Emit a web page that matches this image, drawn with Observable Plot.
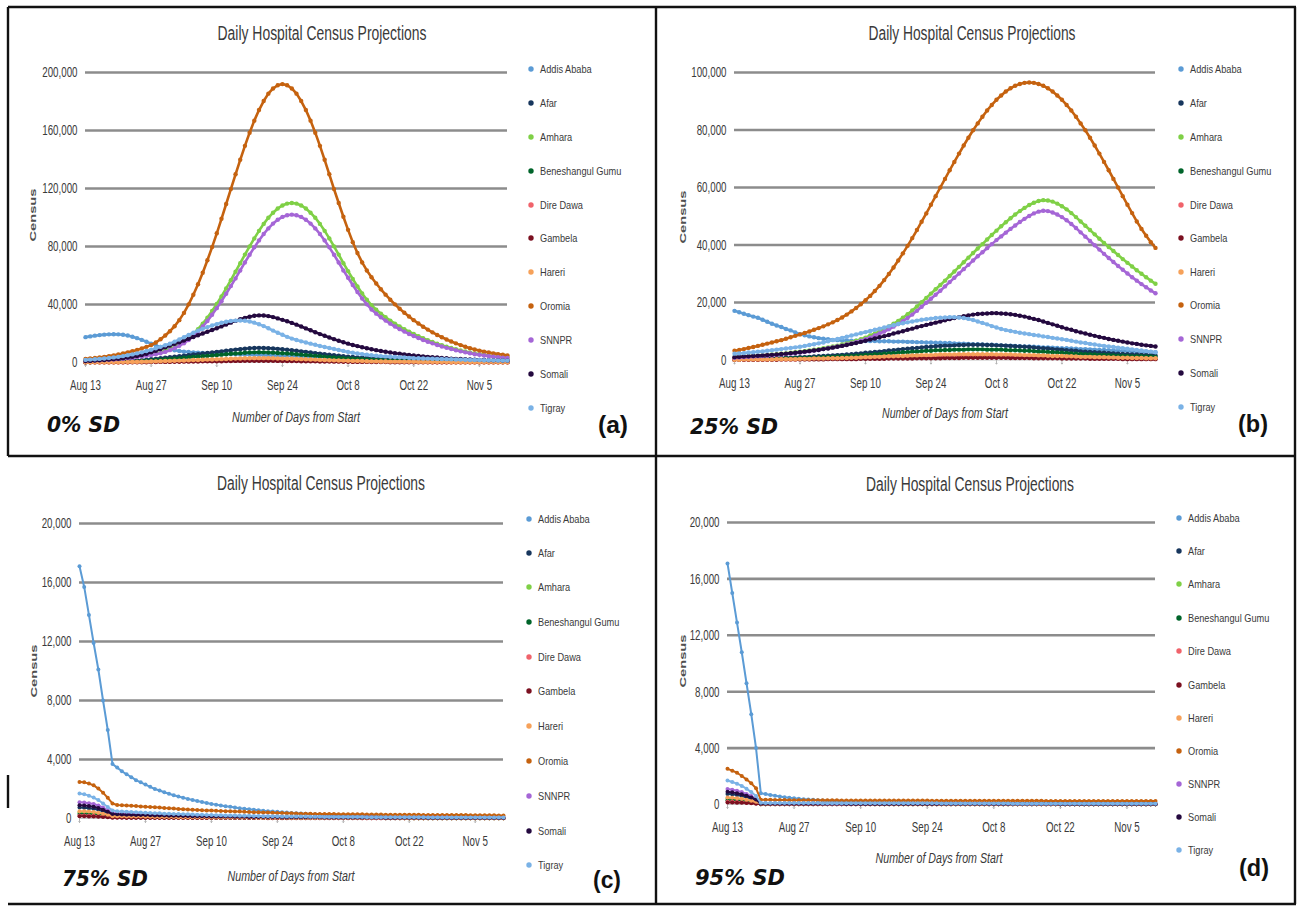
<!DOCTYPE html>
<html><head><meta charset="utf-8">
<script src="https://cdn.jsdelivr.net/npm/d3@7"></script>
<script src="https://cdn.jsdelivr.net/npm/@observablehq/plot@0.6"></script>
<style>
html,body{margin:0;padding:0;background:#fff;}
#page{position:relative;width:1297px;height:906px;overflow:hidden;background:#fff;font-family:"Liberation Sans",Arial,sans-serif;}
.plotbox{position:absolute;}
#overlay{position:absolute;left:0;top:0;}
</style></head><body><div id="page"></div>
<script>
// ---------- categories / labels ----------
const regions = ["Addis Ababa","Afar","Amhara","Beneshangul Gumu","Dire Dawa","Gambela","Hareri","Oromia","SNNPR","Somali","Tigray"];
const colors = ["#5b9bd5","#17365d","#7fd046","#00642a","#f0636b","#7b1020","#f6a15a","#c5620f","#a566d6","#24093f","#7ab2e6"];
const xTickDays = [0,14,28,42,56,70,84];
const xTickLabels = ["Aug 13","Aug 27","Sep 10","Sep 24","Oct 8","Oct 22","Nov 5"];
const titleText = "Daily Hospital Census Projections";
const yLabelText = "Census";
const xLabelText = "Number of Days from Start";
const sdLabels = ["0% SD","25% SD","75% SD","95% SD"];
const panelTags = ["(a)","(b)","(c)","(d)"];
const yTicksAB = [[0,40,80,120,160,200],[0,20,40,60,80,100]]; // thousands
const yTicksCD = [0,4,8,12,16,20]; // thousands

// ---------- (a) 0% SD, census in thousands, day 0 = Aug 13 ----------
const addisA = [17.5,18.0,18.5,18.9,19.2,19.4,19.5,19.4,19.1,18.6,
17.8,16.8,15.6,14.3,13.0,11.8,10.7,9.8,9.0,8.4,
7.9,7.5,7.2,7.0,6.8,6.6,6.4,6.3,6.1,6.0,
5.9,5.8,5.7,5.6,5.5,5.4,5.3,5.2,5.1,5.0,
4.9,4.8,4.7,4.6,4.5,4.4,4.3,4.2,4.1,4.0,
3.9,3.8,3.7,3.6,3.5,3.5,3.4,3.3,3.2,3.1,
3.1,3.0,2.9,2.8,2.8,2.7,2.6,2.6,2.5,2.4,
2.4,2.3,2.3,2.2,2.1,2.1,2.0,2.0,1.9,1.9,
1.8,1.8,1.7,1.7,1.6,1.6,1.5,1.5,1.5,1.4,1.4];
const afarA = [0.3,0.3,0.4,0.5,0.5,0.6,0.7,0.8,0.9,1.1,
1.2,1.4,1.6,1.9,2.2,2.5,2.9,3.3,3.6,4.0,
4.3,4.7,5.1,5.5,5.8,6.2,6.6,6.9,7.3,7.7,
8.1,8.5,8.9,9.2,9.5,9.8,10.0,10.1,10.0,9.9,
9.7,9.4,9.1,8.8,8.5,8.1,7.7,7.3,6.9,6.5,
6.1,5.7,5.3,5.0,4.7,4.3,4.0,3.8,3.5,3.3,
3.0,2.8,2.6,2.4,2.3,2.1,2.0,1.9,1.7,1.6,
1.5,1.4,1.3,1.2,1.1,1.1,1.0,0.9,0.8,0.8,
0.7,0.7,0.7,0.6,0.6,0.5,0.5,0.5,0.5,0.4,0.4];
const amharaA = [1.1,1.3,1.4,1.6,1.8,2.0,2.2,2.5,2.8,3.2,
3.6,4.0,4.5,5.0,5.6,6.2,6.9,7.9,9.2,10.7,
12.4,14.3,16.7,19.6,23.0,26.8,30.9,35.5,40.4,45.6,
51.1,56.8,62.6,68.5,74.4,80.1,85.6,90.8,95.6,99.8,
103.3,106.2,108.3,109.6,110.0,109.6,108.3,106.2,103.3,99.8,
95.6,90.8,85.6,80.1,74.4,68.5,63.0,57.6,52.4,47.6,
43.3,39.5,36.4,33.7,31.2,28.9,26.8,24.8,23.0,21.3,
19.7,18.2,16.7,15.4,14.2,13.0,11.9,10.9,10.0,9.1,
8.3,7.6,6.9,6.2,5.7,5.2,4.7,4.3,4.0,3.6,3.3];
const beneshA = [0.2,0.2,0.3,0.4,0.4,0.4,0.5,0.6,0.6,0.8,
0.8,1.0,1.1,1.3,1.5,1.8,2.0,2.3,2.5,2.8,
3.0,3.3,3.6,3.9,4.1,4.3,4.6,4.8,5.1,5.4,
5.7,6.0,6.2,6.4,6.7,6.9,7.0,7.1,7.0,6.9,
6.8,6.6,6.4,6.2,6.0,5.7,5.4,5.1,4.8,4.6,
4.3,4.0,3.7,3.5,3.3,3.0,2.8,2.7,2.5,2.3,
2.1,2.0,1.8,1.7,1.6,1.5,1.4,1.3,1.2,1.1,
1.1,1.0,0.9,0.8,0.8,0.8,0.7,0.6,0.6,0.6,
0.5,0.5,0.5,0.4,0.4,0.4,0.4,0.4,0.4,0.3,0.3];
const direA = [0.1,0.1,0.1,0.1,0.1,0.2,0.2,0.2,0.2,0.2,
0.3,0.3,0.4,0.4,0.5,0.6,0.7,0.7,0.8,0.9,
0.9,1.0,1.1,1.2,1.3,1.4,1.5,1.5,1.6,1.7,
1.8,1.9,2.0,2.0,2.1,2.1,2.2,2.2,2.2,2.2,
2.1,2.0,2.0,1.9,1.9,1.8,1.7,1.6,1.5,1.5,
1.3,1.2,1.2,1.1,1.0,0.9,0.9,0.8,0.8,0.7,
0.7,0.6,0.6,0.5,0.5,0.4,0.4,0.4,0.4,0.4,
0.4,0.3,0.3,0.3,0.2,0.2,0.2,0.2,0.1,0.1,
0.1,0.1,0.1,0.1,0.1,0.1,0.1,0.1,0.1,0.1,0.1];
const gambelaA = [0.1,0.1,0.1,0.1,0.1,0.1,0.1,0.1,0.1,0.1,
0.2,0.2,0.2,0.2,0.3,0.3,0.4,0.4,0.4,0.5,
0.5,0.6,0.6,0.7,0.7,0.8,0.8,0.8,0.9,0.9,
1.0,1.0,1.1,1.1,1.2,1.2,1.2,1.2,1.2,1.2,
1.2,1.1,1.1,1.0,1.0,1.0,0.9,0.9,0.8,0.8,
0.7,0.7,0.7,0.6,0.6,0.5,0.5,0.4,0.4,0.4,
0.4,0.3,0.3,0.3,0.3,0.2,0.2,0.2,0.2,0.2,
0.2,0.2,0.2,0.2,0.1,0.1,0.1,0.1,0.1,0.1,
0.1,0.1,0.1,0.1,0.1,0.1,0.1,0.1,0.1,0.1,0.1];
const harariA = [0.1,0.1,0.1,0.2,0.2,0.2,0.2,0.2,0.3,0.3,
0.4,0.4,0.5,0.6,0.7,0.8,0.9,1.0,1.1,1.2,
1.3,1.4,1.5,1.7,1.7,1.9,2.0,2.1,2.2,2.3,
2.4,2.6,2.7,2.8,2.9,2.9,3.0,3.0,3.0,3.0,
2.9,2.8,2.7,2.6,2.6,2.4,2.3,2.2,2.1,2.0,
1.8,1.7,1.6,1.5,1.4,1.3,1.2,1.1,1.1,1.0,
0.9,0.8,0.8,0.7,0.7,0.6,0.6,0.6,0.5,0.5,
0.5,0.4,0.4,0.4,0.3,0.3,0.3,0.3,0.2,0.2,
0.2,0.2,0.2,0.2,0.2,0.2,0.2,0.2,0.2,0.1,0.1];
const oromiaA = [2.5,2.8,3.1,3.5,3.9,4.4,4.9,5.5,6.2,7.0,
7.8,8.7,9.7,10.8,12.0,13.8,16.0,18.6,21.6,25.0,
29.2,34.2,40.1,46.7,54.0,61.9,70.5,79.6,89.1,99.1,
109.3,119.6,129.8,139.8,149.4,158.5,166.8,174.1,180.3,185.4,
189.0,191.2,192.0,191.2,189.0,185.4,180.3,174.1,166.8,158.5,
149.4,139.8,129.8,119.6,110.0,100.5,91.5,83.0,75.5,69.0,
63.5,58.8,54.5,50.5,46.8,43.3,40.1,37.1,34.3,31.7,
29.2,26.9,24.7,22.7,20.8,19.0,17.4,15.9,14.5,13.2,
12.0,10.9,9.9,9.0,8.2,7.5,6.9,6.3,5.8,5.3,4.9];
const snnprA = [1.0,1.2,1.3,1.5,1.7,1.9,2.0,2.3,2.6,3.0,
3.3,3.7,4.2,4.6,5.2,5.7,6.4,7.3,8.5,9.9,
11.5,13.3,15.5,18.2,21.3,24.8,28.6,32.9,37.5,42.3,
47.4,52.7,58.0,63.5,69.0,74.3,79.4,84.2,88.6,92.5,
95.8,98.4,100.4,101.6,102.0,101.6,100.4,98.4,95.8,92.5,
88.6,84.2,79.4,74.3,69.0,63.5,58.4,53.4,48.6,44.1,
40.1,36.6,33.7,31.2,28.9,26.8,24.8,23.0,21.3,19.7,
18.3,16.9,15.5,14.3,13.2,12.1,11.0,10.1,9.3,8.4,
7.7,7.0,6.4,5.7,5.3,4.8,4.4,4.0,3.7,3.3,3.1];
const somaliA = [1.0,1.1,1.3,1.5,1.7,2.0,2.3,2.6,3.0,3.4,
3.9,4.5,5.2,6.0,7.0,8.1,9.3,10.5,11.7,12.9,
14.0,15.2,16.4,17.6,18.8,20.0,21.2,22.4,23.6,24.9,
26.2,27.5,28.7,29.8,30.8,31.6,32.2,32.5,32.4,32.0,
31.3,30.4,29.4,28.4,27.3,26.1,24.8,23.5,22.2,20.9,
19.6,18.4,17.2,16.1,15.0,14.0,13.0,12.1,11.3,10.5,
9.8,9.1,8.5,7.9,7.4,6.9,6.4,6.0,5.6,5.2,
4.8,4.5,4.2,3.9,3.6,3.4,3.1,2.9,2.7,2.5,
2.4,2.2,2.1,2.0,1.8,1.7,1.6,1.5,1.5,1.4,1.3];
const tigrayA = [1.8,2.0,2.2,2.5,2.8,3.1,3.5,3.9,4.4,5.0,
5.6,6.3,7.0,7.9,8.8,9.8,10.8,11.9,13.0,14.4,
15.9,17.4,19.0,20.5,22.0,23.2,24.4,25.5,26.5,27.4,
28.1,28.6,28.9,29.0,28.8,28.3,27.5,26.4,25.1,23.6,
22.0,20.5,19.1,17.7,16.5,15.5,14.6,13.8,13.0,12.2,
11.4,10.7,10.0,9.3,8.6,8.0,7.3,6.7,6.2,5.8,
5.4,5.0,4.7,4.4,4.2,4.0,3.8,3.6,3.4,3.2,
3.0,2.9,2.8,2.7,2.6,2.5,2.4,2.3,2.2,2.1,
2.0,1.9,1.8,1.8,1.7,1.6,1.6,1.5,1.4,1.4,1.3];

// ---------- (b) 25% SD ----------
const addisB = [17.1,16.6,16.1,15.6,15.1,14.7,14.0,13.3,12.6,12.0,
11.5,10.8,10.3,9.6,9.0,8.6,8.2,7.9,7.6,7.4,
7.2,7.0,6.9,6.8,6.8,6.7,6.7,6.7,6.6,6.6,
6.6,6.5,6.5,6.5,6.4,6.4,6.4,6.3,6.3,6.2,
6.2,6.1,6.1,6.0,6.0,5.9,5.9,5.8,5.7,5.7,
5.6,5.5,5.5,5.4,5.3,5.3,5.2,5.1,5.0,5.0,
4.9,4.8,4.7,4.7,4.6,4.5,4.4,4.4,4.3,4.2,
4.1,4.1,4.0,3.9,3.8,3.8,3.7,3.6,3.5,3.5,
3.4,3.3,3.2,3.2,3.1,3.0,3.0,2.9,2.8,2.8,2.7];
const afarB = [0.3,0.3,0.4,0.4,0.4,0.5,0.5,0.6,0.6,0.7,
0.7,0.8,0.8,0.9,1.0,1.0,1.1,1.2,1.3,1.4,
1.5,1.6,1.7,1.8,1.9,2.0,2.2,2.3,2.5,2.6,
2.8,2.9,3.1,3.3,3.4,3.6,3.8,3.9,4.1,4.2,
4.4,4.5,4.6,4.8,4.9,5.0,5.0,5.1,5.2,5.2,
5.3,5.3,5.3,5.3,5.2,5.2,5.1,5.1,5.0,4.9,
4.8,4.7,4.6,4.5,4.4,4.2,4.1,4.0,3.8,3.7,
3.6,3.4,3.3,3.2,3.0,2.9,2.8,2.7,2.6,2.5,
2.4,2.3,2.2,2.1,2.0,1.9,1.9,1.8,1.7,1.7,1.6];
const amharaB = [1.0,1.1,1.2,1.3,1.4,1.5,1.6,1.7,1.9,2.0,
2.2,2.3,2.5,2.7,2.9,3.1,3.3,3.6,3.8,4.1,
4.4,4.7,5.0,5.4,5.8,6.2,6.7,7.2,7.8,8.5,
9.2,10.0,10.8,11.7,12.6,13.6,14.7,15.9,17.2,18.6,
20.1,21.6,23.1,24.6,26.1,27.6,29.2,30.8,32.4,34.0,
35.6,37.2,38.8,40.3,41.9,43.5,45.0,46.5,47.9,49.3,
50.6,51.8,52.9,53.9,54.7,55.3,55.6,55.5,55.1,54.4,
53.5,52.4,51.1,49.7,48.2,46.7,45.2,43.7,42.2,40.7,
39.3,37.9,36.5,35.1,33.8,32.5,31.2,30.0,28.8,27.6,26.5];
const beneshB = [0.2,0.2,0.3,0.3,0.3,0.4,0.4,0.4,0.4,0.5,
0.5,0.6,0.6,0.6,0.7,0.7,0.8,0.8,0.9,1.0,
1.1,1.1,1.2,1.3,1.3,1.4,1.5,1.6,1.8,1.8,
2.0,2.0,2.2,2.3,2.4,2.5,2.7,2.7,2.9,2.9,
3.1,3.2,3.2,3.4,3.4,3.5,3.5,3.6,3.6,3.6,
3.7,3.7,3.7,3.7,3.6,3.6,3.6,3.6,3.5,3.4,
3.4,3.3,3.2,3.2,3.1,2.9,2.9,2.8,2.7,2.6,
2.5,2.4,2.3,2.2,2.1,2.0,2.0,1.9,1.8,1.8,
1.7,1.6,1.5,1.5,1.4,1.3,1.3,1.3,1.2,1.2,1.1];
const direB = [0.1,0.1,0.1,0.1,0.1,0.1,0.1,0.1,0.2,0.2,
0.2,0.2,0.2,0.2,0.3,0.3,0.3,0.4,0.4,0.4,
0.4,0.5,0.5,0.5,0.5,0.6,0.6,0.7,0.7,0.8,
0.8,0.8,0.9,1.0,1.0,1.0,1.1,1.1,1.2,1.2,
1.3,1.3,1.3,1.4,1.4,1.4,1.4,1.4,1.5,1.5,
1.5,1.5,1.5,1.5,1.5,1.5,1.4,1.4,1.4,1.4,
1.4,1.3,1.3,1.3,1.3,1.2,1.2,1.1,1.1,1.0,
1.0,1.0,1.0,0.9,0.8,0.8,0.8,0.8,0.7,0.7,
0.7,0.7,0.6,0.6,0.6,0.5,0.5,0.5,0.5,0.4,0.4];
const gambelaB = [0.1,0.1,0.1,0.1,0.1,0.1,0.1,0.1,0.1,0.1,
0.2,0.2,0.2,0.2,0.2,0.2,0.2,0.2,0.2,0.2,
0.3,0.3,0.3,0.3,0.3,0.3,0.3,0.4,0.4,0.4,
0.4,0.4,0.4,0.5,0.5,0.5,0.5,0.5,0.5,0.6,
0.6,0.6,0.6,0.6,0.6,0.7,0.7,0.7,0.7,0.8,
0.8,0.8,0.8,0.8,0.8,0.8,0.8,0.8,0.8,0.7,
0.7,0.7,0.7,0.7,0.6,0.6,0.6,0.6,0.6,0.6,
0.5,0.5,0.5,0.5,0.5,0.5,0.4,0.4,0.4,0.4,
0.4,0.4,0.4,0.3,0.3,0.3,0.3,0.3,0.3,0.3,0.3];
const harariB = [0.1,0.1,0.2,0.2,0.2,0.2,0.2,0.2,0.2,0.3,
0.3,0.3,0.3,0.3,0.4,0.4,0.4,0.5,0.5,0.5,
0.6,0.6,0.6,0.7,0.7,0.8,0.8,0.9,1.0,1.0,
1.1,1.1,1.2,1.3,1.3,1.4,1.4,1.5,1.6,1.6,
1.7,1.7,1.7,1.8,1.9,1.9,1.9,1.9,2.0,2.0,
2.0,2.0,2.0,2.0,2.0,2.0,1.9,1.9,1.9,1.9,
1.8,1.8,1.7,1.7,1.7,1.6,1.6,1.5,1.4,1.4,
1.4,1.3,1.3,1.2,1.1,1.1,1.1,1.0,1.0,1.0,
0.9,0.9,0.8,0.8,0.8,0.7,0.7,0.7,0.6,0.6,0.6];
const oromiaB = [3.2,3.5,3.8,4.2,4.5,4.9,5.3,5.7,6.1,6.5,
6.9,7.4,7.9,8.4,8.9,9.4,9.9,10.5,11.1,11.7,
12.4,13.1,13.9,14.8,15.8,16.9,18.1,19.4,20.8,22.3,
24.0,25.8,27.8,29.9,32.2,34.6,37.1,39.7,42.4,45.2,
48.1,51.0,54.0,57.0,60.0,63.0,66.0,68.9,71.8,74.6,
77.3,79.9,82.3,84.6,86.8,88.7,90.5,92.0,93.4,94.5,
95.4,96.0,96.4,96.5,96.4,96.0,95.4,94.5,93.4,92.0,
90.5,88.7,86.8,84.6,82.3,79.9,77.3,74.6,71.8,68.9,
66.0,63.0,60.0,57.0,54.0,51.1,48.2,45.6,43.2,41.0,39.0];
const snnprB = [0.8,0.9,1.0,1.1,1.2,1.3,1.4,1.5,1.6,1.8,
1.9,2.1,2.2,2.4,2.6,2.8,3.0,3.3,3.5,3.8,
4.1,4.4,4.7,5.0,5.4,5.8,6.2,6.7,7.2,7.8,
8.5,9.2,9.9,10.7,11.6,12.5,13.5,14.6,15.8,17.1,
18.5,19.9,21.3,22.7,24.1,25.6,27.1,28.6,30.1,31.6,
33.1,34.6,36.1,37.5,38.9,40.3,41.7,43.0,44.3,45.6,
46.8,48.0,49.1,50.1,51.0,51.6,51.9,51.8,51.3,50.6,
49.7,48.6,47.3,45.9,44.4,42.9,41.4,39.9,38.4,36.9,
35.5,34.1,32.7,31.4,30.1,28.8,27.6,26.4,25.3,24.2,23.2];
const somaliB = [1.0,1.1,1.2,1.3,1.4,1.5,1.6,1.7,1.8,1.9,
2.1,2.2,2.4,2.5,2.7,2.9,3.1,3.3,3.5,3.8,
4.0,4.3,4.6,4.9,5.2,5.6,5.9,6.3,6.7,7.1,
7.5,7.9,8.3,8.7,9.2,9.6,10.0,10.5,10.9,11.4,
11.8,12.2,12.6,13.0,13.4,13.8,14.2,14.6,14.9,15.2,
15.5,15.8,16.0,16.1,16.2,16.3,16.3,16.2,16.1,15.9,
15.7,15.4,15.1,14.7,14.3,13.9,13.4,12.9,12.4,11.9,
11.4,10.9,10.5,10.0,9.6,9.2,8.8,8.4,8.0,7.7,
7.3,7.0,6.7,6.4,6.1,5.8,5.6,5.3,5.1,4.9,4.7];
const tigrayB = [2.2,2.3,2.4,2.6,2.7,2.9,3.0,3.2,3.4,3.6,
3.8,4.0,4.2,4.4,4.6,4.9,5.2,5.5,5.8,6.1,
6.5,6.9,7.3,7.7,8.1,8.5,8.9,9.3,9.7,10.1,
10.5,10.9,11.3,11.7,12.1,12.5,12.8,13.1,13.4,13.7,
14.0,14.2,14.4,14.6,14.7,14.8,14.9,14.9,14.8,14.6,
14.3,13.9,13.4,12.9,12.4,11.8,11.3,10.8,10.4,10.1,
9.8,9.5,9.2,9.0,8.7,8.5,8.2,8.0,7.7,7.5,
7.2,7.0,6.7,6.4,6.1,5.9,5.6,5.4,5.1,4.9,
4.7,4.5,4.3,4.1,3.9,3.7,3.5,3.3,3.1,2.9,2.7];

// ---------- (c) 75% SD ----------
const addisC = [17.1,15.7,13.8,11.9,10.1,8.0,6.0,3.7,3.45,3.2,
3.0,2.8,2.6,2.45,2.3,2.15,2.0,1.9,1.78,1.68,
1.58,1.49,1.41,1.33,1.25,1.18,1.12,1.05,0.99,0.94,
0.88,0.83,0.79,0.75,0.7,0.66,0.63,0.59,0.56,0.53,
0.5,0.47,0.45,0.42,0.4,0.38,0.36,0.34,0.32,0.3,
0.29,0.27,0.26,0.25,0.23,0.22,0.21,0.2,0.19,0.18,
0.17,0.16,0.15,0.15,0.14,0.13,0.13,0.12,0.11,0.11,
0.1,0.1,0.09,0.09,0.09,0.08,0.08,0.08,0.07,0.07,
0.07,0.06,0.06,0.06,0.06,0.05,0.05,0.05,0.05,0.05,0.05];
const afarC = [0.75,0.73,0.7,0.66,0.59,0.49,0.37,0.25,0.23,0.22,
0.21,0.21,0.2,0.19,0.18,0.18,0.17,0.17,0.16,0.15,
0.15,0.14,0.14,0.13,0.13,0.13,0.12,0.12,0.11,0.11,
0.11,0.1,0.1,0.1,0.1,0.09,0.09,0.09,0.09,0.08,
0.08,0.08,0.08,0.07,0.07,0.07,0.07,0.07,0.06,0.06,
0.06,0.06,0.06,0.06,0.05,0.05,0.05,0.05,0.05,0.05,
0.05,0.05,0.04,0.04,0.04,0.04,0.04,0.04,0.04,0.04,
0.04,0.04,0.04,0.03,0.03,0.03,0.03,0.03,0.03,0.03,
0.03,0.03,0.03,0.03,0.03,0.03,0.03,0.03,0.03,0.03,0.03];
const amharaC = [0.4,0.39,0.37,0.35,0.31,0.26,0.2,0.14,0.13,0.12,
0.12,0.11,0.11,0.1,0.1,0.1,0.09,0.09,0.09,0.08,
0.08,0.08,0.08,0.07,0.07,0.07,0.07,0.06,0.06,0.06,
0.06,0.06,0.06,0.05,0.05,0.05,0.05,0.05,0.05,0.05,
0.04,0.04,0.04,0.04,0.04,0.04,0.04,0.04,0.04,0.03,
0.03,0.03,0.03,0.03,0.03,0.03,0.03,0.03,0.03,0.03,
0.03,0.03,0.03,0.03,0.03,0.03,0.03,0.03,0.03,0.03,
0.02,0.02,0.02,0.02,0.02,0.02,0.02,0.02,0.02,0.02,
0.02,0.02,0.02,0.02,0.02,0.02,0.02,0.02,0.02,0.02,0.02];
const beneshC = [0.3,0.29,0.28,0.26,0.23,0.19,0.15,0.1,0.1,0.09,
0.09,0.09,0.08,0.08,0.08,0.07,0.07,0.07,0.07,0.06,
0.06,0.06,0.06,0.06,0.05,0.05,0.05,0.05,0.05,0.05,
0.04,0.04,0.04,0.04,0.04,0.04,0.04,0.04,0.04,0.04,
0.04,0.04,0.04,0.04,0.04,0.03,0.03,0.03,0.03,0.03,
0.03,0.03,0.03,0.03,0.03,0.03,0.03,0.03,0.03,0.03,
0.03,0.03,0.03,0.03,0.03,0.02,0.02,0.02,0.02,0.02,
0.02,0.02,0.02,0.02,0.02,0.02,0.02,0.02,0.02,0.02,
0.02,0.02,0.02,0.02,0.02,0.02,0.02,0.02,0.02,0.02,0.02];
const direC = [0.2,0.2,0.19,0.18,0.16,0.13,0.1,0.07,0.07,0.06,
0.06,0.06,0.06,0.06,0.06,0.05,0.05,0.05,0.05,0.05,
0.05,0.05,0.05,0.05,0.05,0.04,0.04,0.04,0.04,0.04,
0.04,0.04,0.04,0.04,0.04,0.04,0.04,0.04,0.04,0.04,
0.03,0.03,0.03,0.03,0.03,0.03,0.03,0.03,0.03,0.03,
0.03,0.03,0.03,0.03,0.03,0.03,0.03,0.03,0.03,0.03,
0.02,0.02,0.02,0.02,0.02,0.02,0.02,0.02,0.02,0.02,
0.02,0.02,0.02,0.02,0.02,0.02,0.02,0.02,0.02,0.02,
0.01,0.01,0.01,0.01,0.01,0.01,0.01,0.01,0.01,0.01,0.01];
const gambelaC = [0.15,0.15,0.14,0.13,0.12,0.1,0.08,0.05,0.05,0.05,
0.04,0.04,0.04,0.04,0.04,0.04,0.04,0.04,0.04,0.04,
0.03,0.03,0.03,0.03,0.03,0.03,0.03,0.03,0.03,0.03,
0.03,0.03,0.03,0.03,0.03,0.03,0.03,0.03,0.03,0.03,
0.02,0.02,0.02,0.02,0.02,0.02,0.02,0.02,0.02,0.02,
0.02,0.02,0.02,0.02,0.02,0.02,0.02,0.02,0.02,0.02,
0.02,0.02,0.02,0.02,0.02,0.01,0.01,0.01,0.01,0.01,
0.01,0.01,0.01,0.01,0.01,0.01,0.01,0.01,0.01,0.01,
0.01,0.01,0.01,0.01,0.01,0.01,0.01,0.01,0.01,0.01,0.01];
const harariC = [0.5,0.49,0.47,0.44,0.39,0.33,0.25,0.16,0.15,0.15,
0.14,0.14,0.13,0.13,0.12,0.12,0.11,0.11,0.1,0.1,
0.1,0.09,0.09,0.09,0.08,0.08,0.08,0.08,0.07,0.07,
0.07,0.07,0.07,0.06,0.06,0.06,0.06,0.06,0.05,0.05,
0.05,0.05,0.05,0.05,0.05,0.04,0.04,0.04,0.04,0.04,
0.04,0.04,0.04,0.04,0.03,0.03,0.03,0.03,0.03,0.03,
0.03,0.03,0.03,0.03,0.03,0.03,0.03,0.03,0.02,0.02,
0.02,0.02,0.02,0.02,0.02,0.02,0.02,0.02,0.02,0.02,
0.02,0.02,0.02,0.02,0.02,0.02,0.02,0.02,0.02,0.02,0.02];
const oromiaC = [2.48,2.45,2.37,2.25,2.03,1.75,1.4,1.02,0.92,0.9,
0.88,0.86,0.84,0.82,0.8,0.78,0.76,0.74,0.71,0.69,
0.67,0.65,0.63,0.61,0.6,0.58,0.56,0.55,0.54,0.52,
0.51,0.5,0.49,0.48,0.47,0.45,0.44,0.43,0.42,0.41,
0.4,0.39,0.38,0.37,0.36,0.35,0.34,0.33,0.33,0.32,
0.31,0.31,0.3,0.3,0.3,0.29,0.29,0.29,0.28,0.28,
0.28,0.27,0.27,0.27,0.27,0.26,0.26,0.26,0.26,0.25,
0.25,0.25,0.25,0.24,0.24,0.24,0.24,0.24,0.23,0.23,
0.23,0.23,0.23,0.22,0.22,0.22,0.22,0.22,0.22,0.21,0.21];
const snnprC = [1.1,1.08,1.04,0.98,0.88,0.74,0.56,0.38,0.35,0.34,
0.33,0.32,0.31,0.3,0.29,0.28,0.27,0.26,0.25,0.24,
0.24,0.23,0.22,0.21,0.21,0.2,0.19,0.19,0.18,0.18,
0.17,0.17,0.16,0.16,0.15,0.15,0.14,0.14,0.14,0.13,
0.13,0.12,0.12,0.12,0.11,0.11,0.11,0.11,0.1,0.1,
0.1,0.1,0.09,0.09,0.09,0.09,0.09,0.08,0.08,0.08,
0.08,0.08,0.08,0.07,0.07,0.07,0.07,0.07,0.07,0.07,
0.06,0.06,0.06,0.06,0.06,0.06,0.06,0.06,0.06,0.05,
0.05,0.05,0.05,0.05,0.05,0.05,0.05,0.05,0.05,0.05,0.05];
const somaliC = [0.9,0.88,0.85,0.8,0.72,0.6,0.46,0.3,0.28,0.27,
0.26,0.25,0.24,0.23,0.23,0.22,0.21,0.2,0.2,0.19,
0.18,0.18,0.17,0.17,0.16,0.16,0.15,0.15,0.14,0.14,
0.13,0.13,0.13,0.12,0.12,0.12,0.11,0.11,0.11,0.1,
0.1,0.1,0.1,0.09,0.09,0.09,0.09,0.08,0.08,0.08,
0.08,0.08,0.07,0.07,0.07,0.07,0.07,0.07,0.06,0.06,
0.06,0.06,0.06,0.06,0.06,0.05,0.05,0.05,0.05,0.05,
0.05,0.05,0.05,0.05,0.04,0.04,0.04,0.04,0.04,0.04,
0.04,0.04,0.04,0.04,0.04,0.04,0.04,0.03,0.03,0.03,0.03];
const tigrayC = [1.7,1.65,1.55,1.42,1.25,1.02,0.78,0.55,0.5,0.48,
0.46,0.44,0.42,0.4,0.39,0.37,0.36,0.35,0.33,0.32,
0.31,0.3,0.29,0.28,0.27,0.26,0.25,0.24,0.23,0.22,
0.22,0.21,0.2,0.2,0.19,0.18,0.18,0.17,0.17,0.16,
0.16,0.15,0.15,0.14,0.14,0.14,0.13,0.13,0.13,0.12,
0.12,0.12,0.11,0.11,0.11,0.11,0.1,0.1,0.1,0.1,
0.1,0.09,0.09,0.09,0.09,0.09,0.09,0.08,0.08,0.08,
0.08,0.08,0.08,0.08,0.07,0.07,0.07,0.07,0.07,0.07,
0.07,0.07,0.06,0.06,0.06,0.06,0.06,0.06,0.06,0.06,0.06];

// ---------- (d) 95% SD ----------
const addisD = [17.1,15.0,12.9,10.8,8.6,6.4,4.0,0.8,0.74,0.68,
0.62,0.57,0.52,0.48,0.44,0.41,0.38,0.35,0.33,0.31,
0.29,0.27,0.25,0.24,0.22,0.21,0.2,0.19,0.18,0.17,
0.17,0.16,0.16,0.15,0.15,0.15,0.14,0.14,0.14,0.14,
0.13,0.13,0.13,0.13,0.13,0.12,0.12,0.12,0.12,0.12,
0.12,0.11,0.11,0.11,0.11,0.11,0.11,0.11,0.1,0.1,
0.1,0.1,0.1,0.1,0.1,0.1,0.1,0.1,0.1,0.1,
0.1,0.1,0.1,0.1,0.1,0.1,0.1,0.1,0.1,0.1,
0.1,0.1,0.1,0.1,0.1,0.1,0.1,0.1,0.1,0.1,0.1];
const afarD = [0.75,0.72,0.67,0.6,0.52,0.42,0.3,0.05,0.05,0.05,
0.04,0.04,0.04,0.04,0.04,0.04,0.04,0.04,0.04,0.04,
0.04,0.04,0.04,0.04,0.04,0.04,0.04,0.04,0.04,0.04,
0.03,0.03,0.03,0.03,0.03,0.03,0.03,0.03,0.03,0.03,
0.03,0.03,0.03,0.03,0.03,0.03,0.03,0.03,0.03,0.03,
0.03,0.03,0.03,0.03,0.03,0.02,0.02,0.02,0.02,0.02,
0.02,0.02,0.02,0.02,0.02,0.02,0.02,0.02,0.02,0.02,
0.02,0.02,0.02,0.02,0.02,0.02,0.02,0.02,0.02,0.02,
0.02,0.02,0.02,0.02,0.02,0.02,0.02,0.02,0.02,0.02,0.02];
const amharaD = [0.42,0.4,0.37,0.33,0.28,0.22,0.15,0.03,0.03,0.03,
0.03,0.03,0.03,0.03,0.03,0.03,0.03,0.03,0.03,0.03,
0.03,0.03,0.03,0.03,0.03,0.03,0.03,0.03,0.03,0.03,
0.02,0.02,0.02,0.02,0.02,0.02,0.02,0.02,0.02,0.02,
0.02,0.02,0.02,0.02,0.02,0.02,0.02,0.02,0.02,0.02,
0.02,0.02,0.02,0.02,0.02,0.02,0.02,0.02,0.02,0.02,
0.01,0.01,0.01,0.01,0.01,0.01,0.01,0.01,0.01,0.01,
0.01,0.01,0.01,0.01,0.01,0.01,0.01,0.01,0.01,0.01,
0.01,0.01,0.01,0.01,0.01,0.01,0.01,0.01,0.01,0.01,0.01];
const beneshD = [0.3,0.29,0.27,0.24,0.2,0.16,0.11,0.02,0.02,0.02,
0.02,0.02,0.02,0.02,0.02,0.02,0.02,0.02,0.02,0.02,
0.02,0.02,0.02,0.02,0.02,0.02,0.02,0.02,0.02,0.02,
0.02,0.02,0.02,0.02,0.02,0.02,0.02,0.02,0.02,0.02,
0.01,0.01,0.01,0.01,0.01,0.01,0.01,0.01,0.01,0.01,
0.01,0.01,0.01,0.01,0.01,0.01,0.01,0.01,0.01,0.01,
0.01,0.01,0.01,0.01,0.01,0.01,0.01,0.01,0.01,0.01,
0.01,0.01,0.01,0.01,0.01,0.01,0.01,0.01,0.01,0.01,
0.01,0.01,0.01,0.01,0.01,0.01,0.01,0.01,0.01,0.01,0.01];
const direD = [0.2,0.19,0.18,0.16,0.13,0.1,0.07,0.02,0.02,0.02,
0.01,0.01,0.01,0.01,0.01,0.01,0.01,0.01,0.01,0.01,
0.01,0.01,0.01,0.01,0.01,0.01,0.01,0.01,0.01,0.01,
0.01,0.01,0.01,0.01,0.01,0.01,0.01,0.01,0.01,0.01,
0.01,0.01,0.01,0.01,0.01,0.01,0.01,0.01,0.01,0.01,
0.01,0.01,0.01,0.01,0.01,0.01,0.01,0.01,0.01,0.01,
0.01,0.01,0.01,0.01,0.01,0.01,0.01,0.01,0.01,0.01,
0.01,0.01,0.01,0.01,0.01,0.01,0.01,0.01,0.01,0.01,
0.01,0.01,0.01,0.01,0.01,0.01,0.01,0.01,0.01,0.01,0.01];
const gambelaD = [0.15,0.14,0.13,0.12,0.1,0.08,0.05,0.01,0.01,0.01,
0.01,0.01,0.01,0.01,0.01,0.01,0.01,0.01,0.01,0.01,
0.01,0.01,0.01,0.01,0.01,0.01,0.01,0.01,0.01,0.01,
0.01,0.01,0.01,0.01,0.01,0.01,0.01,0.01,0.01,0.01,
0.01,0.01,0.01,0.01,0.01,0.01,0.01,0.01,0.01,0.01,
0.01,0.01,0.01,0.01,0.01,0.01,0.01,0.01,0.01,0.01,
0.01,0.01,0.01,0.01,0.01,0.01,0.01,0.01,0.01,0.01,
0.01,0.01,0.01,0.01,0.01,0.01,0.01,0.01,0.01,0.01,
0.01,0.01,0.01,0.01,0.01,0.01,0.01,0.01,0.01,0.01,0.01];
const harariD = [0.5,0.48,0.45,0.4,0.34,0.27,0.19,0.04,0.04,0.04,
0.03,0.03,0.03,0.03,0.03,0.03,0.03,0.03,0.03,0.03,
0.03,0.03,0.03,0.03,0.03,0.03,0.03,0.03,0.03,0.03,
0.03,0.03,0.03,0.03,0.03,0.02,0.02,0.02,0.02,0.02,
0.02,0.02,0.02,0.02,0.02,0.02,0.02,0.02,0.02,0.02,
0.02,0.02,0.02,0.02,0.02,0.02,0.02,0.02,0.02,0.02,
0.02,0.02,0.02,0.02,0.02,0.01,0.01,0.01,0.01,0.01,
0.01,0.01,0.01,0.01,0.01,0.01,0.01,0.01,0.01,0.01,
0.01,0.01,0.01,0.01,0.01,0.01,0.01,0.01,0.01,0.01,0.01];
const oromiaD = [2.53,2.4,2.25,2.02,1.78,1.5,1.15,0.34,0.33,0.33,
0.32,0.32,0.32,0.31,0.31,0.31,0.31,0.3,0.3,0.3,
0.3,0.3,0.3,0.3,0.29,0.29,0.29,0.29,0.29,0.29,
0.29,0.29,0.28,0.28,0.28,0.28,0.28,0.28,0.28,0.28,
0.28,0.28,0.28,0.27,0.27,0.27,0.27,0.27,0.27,0.27,
0.27,0.27,0.27,0.27,0.26,0.26,0.26,0.26,0.26,0.26,
0.26,0.26,0.26,0.26,0.26,0.26,0.26,0.25,0.25,0.25,
0.25,0.25,0.25,0.25,0.25,0.25,0.25,0.25,0.25,0.25,
0.25,0.25,0.25,0.25,0.25,0.25,0.25,0.25,0.25,0.25,0.25];
const snnprD = [1.1,1.05,0.98,0.88,0.75,0.6,0.42,0.08,0.08,0.07,
0.07,0.07,0.07,0.07,0.07,0.07,0.07,0.07,0.07,0.07,
0.06,0.06,0.06,0.06,0.06,0.06,0.06,0.06,0.06,0.06,
0.06,0.06,0.06,0.06,0.06,0.05,0.05,0.05,0.05,0.05,
0.05,0.05,0.05,0.05,0.05,0.05,0.05,0.05,0.05,0.05,
0.05,0.05,0.05,0.05,0.05,0.04,0.04,0.04,0.04,0.04,
0.04,0.04,0.04,0.04,0.04,0.04,0.04,0.04,0.04,0.04,
0.04,0.04,0.04,0.04,0.04,0.03,0.03,0.03,0.03,0.03,
0.03,0.03,0.03,0.03,0.03,0.03,0.03,0.03,0.03,0.03,0.03];
const somaliD = [0.9,0.86,0.8,0.72,0.62,0.5,0.35,0.06,0.06,0.06,
0.05,0.05,0.05,0.05,0.05,0.05,0.05,0.05,0.05,0.05,
0.05,0.05,0.05,0.05,0.05,0.04,0.04,0.04,0.04,0.04,
0.04,0.04,0.04,0.04,0.04,0.04,0.04,0.04,0.04,0.04,
0.04,0.04,0.04,0.04,0.04,0.03,0.03,0.03,0.03,0.03,
0.03,0.03,0.03,0.03,0.03,0.03,0.03,0.03,0.03,0.03,
0.03,0.03,0.03,0.03,0.03,0.03,0.03,0.03,0.03,0.03,
0.02,0.02,0.02,0.02,0.02,0.02,0.02,0.02,0.02,0.02,
0.02,0.02,0.02,0.02,0.02,0.02,0.02,0.02,0.02,0.02,0.02];
const tigrayD = [1.7,1.6,1.48,1.32,1.12,0.88,0.6,0.12,0.11,0.11,
0.1,0.1,0.1,0.1,0.1,0.1,0.1,0.1,0.1,0.1,
0.09,0.09,0.09,0.09,0.09,0.09,0.09,0.09,0.09,0.09,
0.08,0.08,0.08,0.08,0.08,0.08,0.08,0.08,0.08,0.08,
0.08,0.08,0.08,0.08,0.08,0.07,0.07,0.07,0.07,0.07,
0.07,0.07,0.07,0.07,0.07,0.07,0.07,0.07,0.07,0.07,
0.06,0.06,0.06,0.06,0.06,0.06,0.06,0.06,0.06,0.06,
0.06,0.06,0.06,0.06,0.06,0.05,0.05,0.05,0.05,0.05,
0.05,0.05,0.05,0.05,0.05,0.05,0.05,0.05,0.05,0.05,0.05];

// ---------- panels (series in legend order) ----------
const panels = [
  {series:[addisA,afarA,amharaA,beneshA,direA,gambelaA,harariA,oromiaA,snnprA,somaliA,tigrayA], yTicks:yTicksAB[0]},
  {series:[addisB,afarB,amharaB,beneshB,direB,gambelaB,harariB,oromiaB,snnprB,somaliB,tigrayB], yTicks:yTicksAB[1]},
  {series:[addisC,afarC,amharaC,beneshC,direC,gambelaC,harariC,oromiaC,snnprC,somaliC,tigrayC], yTicks:yTicksCD},
  {series:[addisD,afarD,amharaD,beneshD,direD,gambelaD,harariD,oromiaD,snnprD,somaliD,tigrayD], yTicks:yTicksCD}
];

// ---------- layout (pixels) ----------
const layout = [
  {plot:[85,72,507,362], title:[322,40,209], census:[33,215], xlab:[296,422,128], sd:[47,432,73], tag:[613,433,30],
   legX:531, legY:[69,103,137,171,205,238,272,306,340,374,408], lw:2.6, r:2.2},
  {plot:[734,72,1155,359.5], title:[972,40,207], census:[683,217], xlab:[945,418,126], sd:[690,434,88], tag:[1253,432,30],
   legX:1181, legY:[69,103,137,171,205,238,272,305,339,373,407], lw:2.6, r:2.2},
  {plot:[79,523,503,818], title:[321,490,208], census:[34,671], xlab:[291,881,127], sd:[62,886,86], tag:[607,888,28],
   legX:529, legY:[519,553,587,622,657,691,726,761,796,831,865], lw:2, r:2},
  {plot:[727,522,1155,804], title:[970,491,208], census:[683,661], xlab:[939,863,127], sd:[695,885,90], tag:[1254,876,30],
   legX:1179, legY:[518,551,584,618,651,685,718,751,784,817,850], lw:2, r:2}
];

const page = document.getElementById("page");
const fmt = d3.format(",");
const squeeze = (root, k) => root.querySelectorAll("text").forEach(t => {
  const L = t.getComputedTextLength();
  if (L > 0) { t.setAttribute("textLength", (L * k).toFixed(1)); t.setAttribute("lengthAdjust", "spacingAndGlyphs"); }
});

panels.forEach((p, pi) => {
  const L = layout[pi];
  const [x0, y0, x1, y1] = L.plot;
  const ml = 62, mr = 8, mt = 14, mb = 42;
  const yMax = p.yTicks[p.yTicks.length - 1];
  const marks = [
    Plot.ruleY(p.yTicks.filter(t => t > 0), {stroke: "#8c8c8c", strokeWidth: 2.6}),
    Plot.ruleY([0], {stroke: "#c4c4c4", strokeWidth: 1}),
    Plot.vector(xTickDays, {x: d => d, y: 0, length: 4, rotate: 180, anchor: "start", stroke: "#b5b5b5", strokeWidth: 1}),
    Plot.axisY(p.yTicks, {tickSize: 0, tickPadding: 8, tickFormat: t => fmt(t * 1000), label: null}),
    Plot.axisX(xTickDays, {tickSize: 0, tickPadding: 17, tickFormat: d => xTickLabels[xTickDays.indexOf(d)], label: null})
  ];
  p.series.forEach((arr, si) => {
    const rows = arr.map((v, i) => ({day: i, value: v}));
    marks.push(Plot.line(rows, {x: "day", y: "value", stroke: colors[si], strokeWidth: L.lw}));
    marks.push(Plot.dot(rows, {x: "day", y: "value", fill: colors[si], r: L.r}));
  });
  const chart = Plot.plot({
    width: (x1 - x0) + ml + mr, height: (y1 - y0) + mt + mb,
    marginLeft: ml, marginRight: mr, marginTop: mt, marginBottom: mb,
    style: {fontFamily: "'Liberation Sans', Arial, sans-serif", fontSize: "15px", color: "#3a3a3a", background: "transparent", overflow: "visible"},
    x: {domain: [0, 90]},
    y: {domain: [0, yMax]},
    marks
  });
  const box = document.createElement("div");
  box.className = "plotbox";
  box.style.left = (x0 - ml) + "px";
  box.style.top = (y0 - mt) + "px";
  box.appendChild(chart);
  page.appendChild(box);
  squeeze(chart, 0.65);
});

// ---------- overlay: frames, titles, labels, legends ----------
const ov = d3.select(page).append("svg").attr("id", "overlay").attr("width", 1297).attr("height", 906);
const frameLines = [[8,7,1296,7],[8,7,8,456],[656,7,656,904],[8,456,1296,456],[8,904,1296,904],[1295,7,1295,904],[8,775,8,808]];
ov.selectAll("line.frame").data(frameLines).join("line").attr("class", "frame")
  .attr("x1", d => d[0]).attr("y1", d => d[1]).attr("x2", d => d[2]).attr("y2", d => d[3])
  .attr("stroke", "#111").attr("stroke-width", 2.4);

layout.forEach((L, pi) => {
  const g = ov.append("g");
  g.append("text").attr("x", L.title[0]).attr("y", L.title[1]).attr("text-anchor", "middle")
    .attr("font-size", 20).attr("fill", "#3a3a3a").attr("textLength", L.title[2]).attr("lengthAdjust", "spacingAndGlyphs")
    .text(titleText);
  g.append("text").attr("transform", `translate(${L.census[0]},${L.census[1]}) scale(0.62,1) rotate(-90)`)
    .attr("text-anchor", "middle").attr("dominant-baseline", "central").attr("font-size", 14.5).attr("font-weight", "bold")
    .attr("fill", "#505050").attr("textLength", 53).attr("lengthAdjust", "spacingAndGlyphs").text(yLabelText);
  g.append("text").attr("x", L.xlab[0]).attr("y", L.xlab[1]).attr("text-anchor", "middle")
    .attr("font-size", 15).attr("font-style", "italic").attr("fill", "#3a3a3a")
    .attr("textLength", L.xlab[2]).attr("lengthAdjust", "spacingAndGlyphs").text(xLabelText);
  g.append("text").attr("x", L.sd[0]).attr("y", L.sd[1]).attr("font-family", "'DejaVu Sans', Verdana, sans-serif")
    .attr("font-size", 21).attr("font-weight", "bold").attr("font-style", "italic").attr("fill", "#111")
    .attr("textLength", L.sd[2]).attr("lengthAdjust", "spacingAndGlyphs").text(sdLabels[pi]);
  g.append("text").attr("x", L.tag[0]).attr("y", L.tag[1]).attr("text-anchor", "middle")
    .attr("font-size", 24).attr("font-weight", "bold").attr("fill", "#111")
    .attr("textLength", L.tag[2]).attr("lengthAdjust", "spacingAndGlyphs").text(panelTags[pi]);
  const leg = g.append("g").attr("class", "legend");
  regions.forEach((name, si) => {
    leg.append("circle").attr("cx", L.legX).attr("cy", L.legY[si]).attr("r", 2.7).attr("fill", colors[si]);
    leg.append("text").attr("class", "legtext").attr("x", L.legX + 9).attr("y", L.legY[si] + 4.3)
      .attr("font-size", 11.5).attr("fill", "#3a3a3a").text(name);
  });
});
ov.selectAll("text.legtext").each(function () {
  const Lw = this.getComputedTextLength();
  this.setAttribute("textLength", (Lw * 0.8).toFixed(1));
  this.setAttribute("lengthAdjust", "spacingAndGlyphs");
});
</script>
</body></html>
